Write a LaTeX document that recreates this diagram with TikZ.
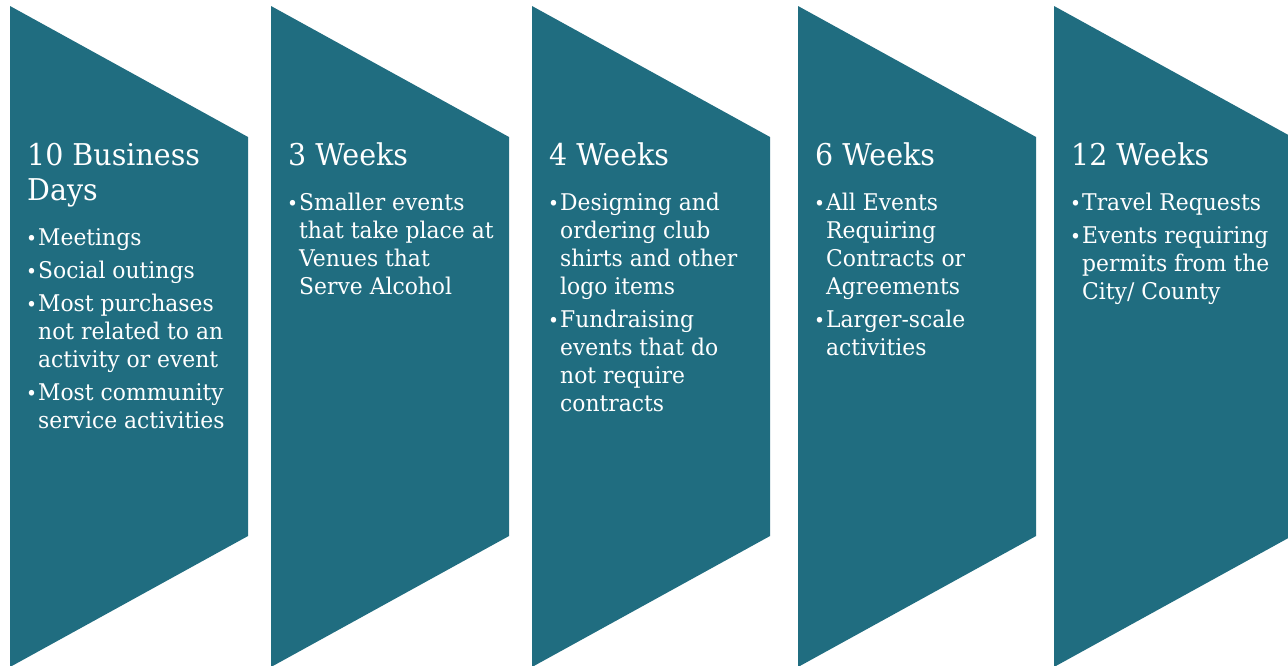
\documentclass[tikz,border=0pt]{standalone}
\usepackage{fontspec}
\setmainfont[FakeStretch=0.95]{DejaVu Serif}
\usepackage{tikz}
\usetikzlibrary{positioning}
\definecolor{panelteal}{RGB}{32,109,128}

\newcommand{\bul}{\makebox[11pt][l]{\hspace{-1pt}\scalebox{0.85}{•}}}

\begin{document}
\begin{tikzpicture}[x=1pt,y=-1pt,
					panel/.style={fill=panelteal, draw=none},
					head/.style={anchor=base west, inner sep=0pt, text=white, font=\fontsize{30}{35}\selectfont},
					items/.style={anchor=base west, inner sep=0pt, text=white, font=\fontsize{23}{28}\selectfont}]
				\useasboundingbox (0,0) rectangle (1288,665);
				\clip (0,0) rectangle (1288,665);
				\fill[white] (0,0) rectangle (1288,665);
				% the five panels
				\foreach \x in {10,271,532,798,1054}
					\fill[panel] (\x,6) -- (\x+238,137) -- (\x+238,536) -- (\x,667) -- cycle;
				% headings
				\node[head] (h1) at (27,165) {\begin{tabular}[t]{@{}l@{}}10 Business\\Days\end{tabular}};
				\node[head] (h2) at (288,165) {3 Weeks};
				\node[head] (h3) at (549,165) {4 Weeks};
				\node[head] (h4) at (815,165) {6 Weeks};
				\node[head] (h5) at (1071,165) {12 Weeks};
				% bullet lists
				\node[items] (l1) at (27,245) {\begin{tabular}[t]{@{}l@{}l@{}}
					\bul & Meetings\\[5pt]
					\bul & Social outings\\[5pt]
					\bul & Most purchases\\
					& not related to an\\
					& activity or event\\[5pt]
					\bul & Most community\\
					& service activities
				\end{tabular}};
				\node[items] (l2) at (288,210) {\begin{tabular}[t]{@{}l@{}l@{}}
					\bul & Smaller events\\
					& that take place at\\
					& Venues that\\
					& Serve Alcohol
				\end{tabular}};
				\node[items] (l3) at (549,210) {\begin{tabular}[t]{@{}l@{}l@{}}
					\bul & Designing and\\
					& ordering club\\
					& shirts and other\\
					& logo items\\[5pt]
					\bul & Fundraising\\
					& events that do\\
					& not require\\
					& contracts
				\end{tabular}};
				\node[items] (l4) at (815,210) {\begin{tabular}[t]{@{}l@{}l@{}}
					\bul & All Events\\
					& Requiring\\
					& Contracts or\\
					& Agreements\\[5pt]
					\bul & Larger-scale\\
					& activities
				\end{tabular}};
				\node[items] (l5) at (1071,210) {\begin{tabular}[t]{@{}l@{}l@{}}
					\bul & Travel Requests\\[5pt]
					\bul & Events requiring\\
					& permits from the\\
					& City/ County
				\end{tabular}};
			\end{tikzpicture}
\end{document}
